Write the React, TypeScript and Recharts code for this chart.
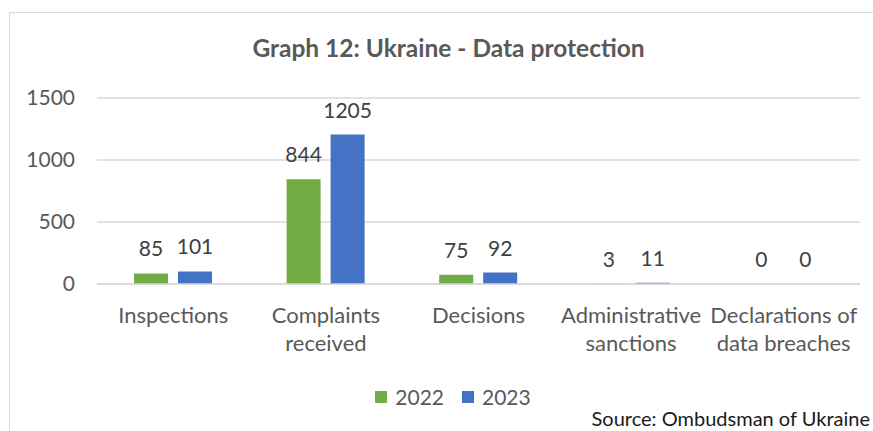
import React from 'react';
import { BarChart, Bar, XAxis, YAxis, CartesianGrid, LabelList } from 'recharts';

const categories = ['Inspections', 'Complaints received', 'Decisions', 'Administrative sanctions', 'Declarations of data breaches'];
const categoryLines = [['Inspections'], ['Complaints', 'received'], ['Decisions'], ['Administrative', 'sanctions'], ['Declarations of', 'data breaches']];
const values2022 = [85, 844, 75, 3, 0];
const values2023 = [101, 1205, 92, 11, 0];
const yTicks = [0, 500, 1000, 1500];
const seriesNames = ['2022', '2023'];
const seriesColors = ['#70AD47', '#4472C4'];

const data = categories.map((name, i) => ({ name, y2022: values2022[i], y2023: values2023[i] }));

const FONT = 'Lato, "Open Sans", sans-serif';

const CategoryTick = (props: any) => {
  const { x, y, index } = props;
  const lines = categoryLines[index] || [props.payload.value];
  return (
    <g>
      {lines.map((line: string, i: number) => (
        <text key={i} x={x} y={y + 31 + i * 28} textAnchor="middle" fill="#595959" fontSize={22} fontFamily={FONT}>
          {line}
        </text>
      ))}
    </g>
  );
};

// drawn by hand so that zero-height bars still get their "0" label
const ValueLabel = (props: any) => {
  const { x, y, width, value } = props;
  if (x == null || y == null) return null;
  return (
    <text x={Number(x) + Number(width) / 2} y={Number(y) - 17} textAnchor="middle" fill="#404040" fontSize={21} fontFamily={FONT}>
      {value}
    </text>
  );
};

export default function App() {
  return (
    <div style={{ position: 'fixed', left: 0, top: 0, width: 873, height: 431, background: '#fff', overflow: 'hidden', fontFamily: FONT }}>
      <div style={{ position: 'absolute', left: 9, top: 12, width: 900, height: 460, border: '1px solid #d9d9d9' }} />
      <div style={{ position: 'absolute', left: 0, top: 33, width: 897, textAlign: 'center', fontSize: 24.5, fontWeight: 'bold', color: '#595959' }}>
        Graph 12: Ukraine - Data protection
      </div>
      <div style={{ position: 'absolute', left: 0, top: 384, width: 906, display: 'flex', justifyContent: 'center', gap: 18, fontSize: 21, color: '#595959' }}>
        {seriesNames.map((s, i) => (
          <span key={s} style={{ display: 'flex', alignItems: 'center' }}>
            <span style={{ display: 'inline-block', width: 12, height: 12, background: seriesColors[i], marginRight: 8 }} />
            {s}
          </span>
        ))}
      </div>
      <div style={{ position: 'absolute', right: 3, top: 406, fontSize: 20, color: '#1a1a1a' }}>
        Source: Ombudsman of Ukraine
      </div>
      <div style={{ position: 'absolute', left: 0, top: 0 }}>
        <BarChart width={873} height={431} data={data} margin={{ top: 98, right: 13, bottom: 47, left: 0 }} barGap={10} barCategoryGap={37}>
          <CartesianGrid vertical={false} stroke="#d9d9d9" strokeWidth={1.5} />
          <XAxis dataKey="name" axisLine={{ stroke: '#d9d9d9', strokeWidth: 1.5 }} tickLine={false} tick={<CategoryTick />} interval={0} height={100} />
          <YAxis domain={[0, 1500]} ticks={yTicks} axisLine={false} tickLine={false} tickSize={0} tickMargin={22} width={97} tick={{ fill: '#595959', fontSize: 21, fontFamily: FONT }} />
          <Bar dataKey="y2022" name="2022" fill={seriesColors[0]} minPointSize={0.01} isAnimationActive={false}>
            <LabelList dataKey="y2022" content={<ValueLabel />} />
          </Bar>
          <Bar dataKey="y2023" name="2023" fill={seriesColors[1]} minPointSize={0.01} isAnimationActive={false}>
            <LabelList dataKey="y2023" content={<ValueLabel />} />
          </Bar>
        </BarChart>
      </div>
    </div>
  );
}
